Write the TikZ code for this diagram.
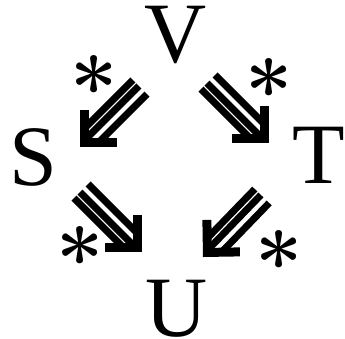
\documentclass[tikz,border=0pt]{standalone}
\usepackage{fontspec}
\setmainfont{Liberation Serif}
\newfontfamily\lmrom{Latin Modern Roman}
\usetikzlibrary{calc}
\tikzset{
  letter/.style={anchor=base, inner sep=0pt, text height=0.66em, text depth=0pt, font=\fontsize{86}{86}\selectfont},
  star/.style={anchor=base, inner sep=0pt, font=\lmrom\bfseries\fontsize{84}{84}\selectfont},
  strip/.style={line width=7pt, line cap=butt},
  chev/.style={line width=9pt, line join=miter, line cap=butt},
}
\newcommand\triarrow[2]{%
  \coordinate (#2P) at ($(#2)!6.36pt!(#1)$);
  \draw[strip, shorten >=14.5pt] ($(#1)!10pt!-90:(#2)$) -- ($(#2)!10pt!90:(#1)$);
  \draw[strip, shorten >=13pt] ($(#1)!1.5pt!-90:(#2)$) -- ($(#2)!1.5pt!90:(#1)$);
  \draw[strip, shorten >=14.5pt] ($(#1)!10pt!90:(#2)$) -- ($(#2)!10pt!-90:(#1)$);
  \draw[chev] ($(#2P)!32.5pt!45:(#1)$) -- (#2P) -- ($(#2P)!32.5pt!-45:(#1)$);
}
\begin{document}
\begin{tikzpicture}[x=1pt, y=-1pt]
\useasboundingbox (0,0) rectangle (345,338);
% letters
\node[letter] (V) at (175.5,62.5) {V};
\node[letter] (S) at (33.5,185) {S};
\node[letter] (T) at (319,183.5) {T};
\node[letter] (U) at (176.5,336) {U};
% asterisks
\node[star] (sVS) at (94,118) {*};
\node[star] (sVT) at (269,121) {*};
\node[star] (sSU) at (80,289) {*};
\node[star] (sTU) at (279,293) {*};
% arrow ends
\coordinate (vsA) at (140,87);
\coordinate (vsB) at (80,147);
\coordinate (vtA) at (208,82);
\coordinate (vtB) at (269,143);
\coordinate (suA) at (81,191);
\coordinate (suB) at (142,252);
\coordinate (tuA) at (262,196);
\coordinate (tuB) at (203,257);
\triarrow{vsA}{vsB}
\triarrow{vtA}{vtB}
\triarrow{suA}{suB}
\triarrow{tuA}{tuB}
\end{tikzpicture}
\end{document}
